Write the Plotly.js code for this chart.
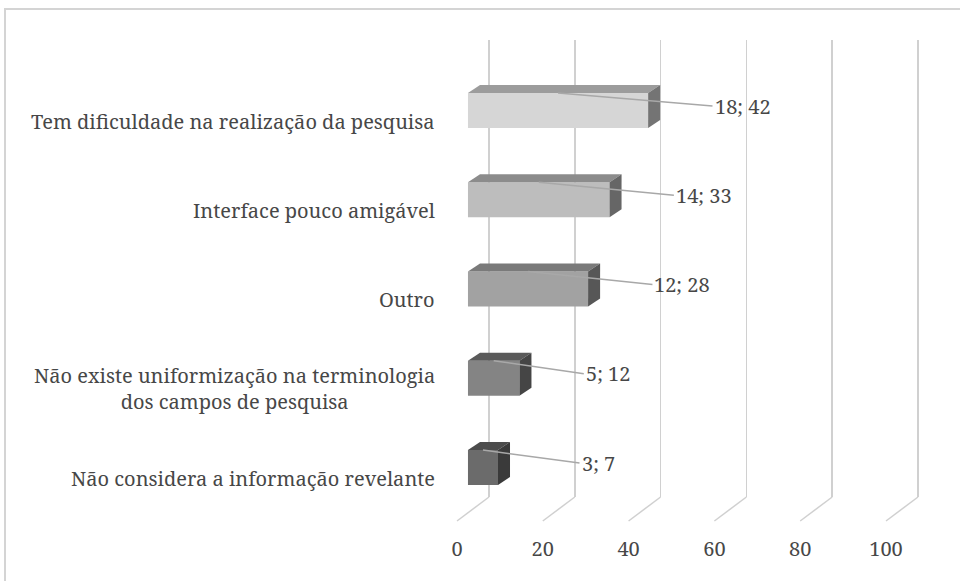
<!DOCTYPE html>
<html>
<head>
<meta charset="utf-8">
<script src="https://cdn.plot.ly/plotly-3.0.1.min.js"></script>
<style>
html,body{margin:0;padding:0;background:#fff;}
#wrap{position:relative;width:960px;height:581px;overflow:hidden;}
#chart{width:960px;height:581px;}
#frame{position:absolute;left:4px;top:8px;width:970px;height:590px;border-top:2px solid #d4d4d4;border-left:2px solid #d4d4d4;pointer-events:none;}
</style>
</head>
<body>
<div id="wrap"><div id="chart"></div><div id="frame"></div></div>
<script>
// ---- data (bottom to top) ----
const categories = [
  "Não considera a informação revelante",
  "Não existe uniformização na terminologia<br>dos campos de pesquisa",
  "Outro",
  "Interface pouco amigável",
  "Tem dificuldade na realização da pesquisa"
];
const counts = [3, 5, 12, 14, 18];
const percents = [7, 12, 28, 33, 42];
const xTickVals = [0, 20, 40, 60, 80, 100];
const xTickText = ["0", "20", "40", "60", "80", "100"];

// ---- styles ----
const frontColors = ["#6b6b6b", "#848484", "#a2a2a2", "#bdbdbd", "#d6d6d6"];
const topColors   = ["#4c4c4c", "#5a5a5a", "#7a7a7a", "#8c8c8c", "#9c9c9c"];
const sideColors  = ["#3a3a3a", "#454545", "#575757", "#666666", "#747474"];
const textColor = "#474747";
const gridColor = "#d0d0d0";
const FONT = "Noto Serif";
const FS = 20;

// ---- 3D geometry helpers (axis units) ----
const frontRange = [-3.96, 112.59];
const barShift = 2.56;     // mid-depth plane of the bars
const backShift = 7.46;    // back wall plane
const depthX = 2.8;
const depthY = 0.09;
const barW = 0.392;
const floorFrac = 0.0499;

const idx = categories.map((_, i) => i);

const traces = [
  {
    type: "bar", orientation: "h",
    x: percents, y: idx, xaxis: "x2", yaxis: "y",
    width: barW,
    marker: {color: frontColors, line: {width: 0}},
    hoverinfo: "skip", showlegend: false
  },
  {
    type: "scatter", mode: "markers", x: xTickVals, y: xTickVals.map(() => -5),
    xaxis: "x3", yaxis: "y", marker: {opacity: 0}, hoverinfo: "skip", showlegend: false
  },
  {
    type: "scatter", mode: "markers", x: xTickVals, y: xTickVals.map(() => -5),
    xaxis: "x", yaxis: "y", marker: {opacity: 0}, hoverinfo: "skip", showlegend: false
  }
];

const shapes = [];
// floor diagonals from back wall grid to front plane
xTickVals.forEach(t => {
  shapes.push({type: "line", xref: "x", yref: "paper",
    x0: t, y0: 0, x1: t + backShift, y1: floorFrac,
    line: {color: gridColor, width: 1.5}});
});
// top and side faces of bars
percents.forEach((v, i) => {
  const y0 = i - barW / 2, y1 = i + barW / 2;
  shapes.push({type: "path", xref: "x2", yref: "y", layer: "above",
    path: `M0,${y1} L${v},${y1} L${v + depthX},${y1 + depthY} L${depthX},${y1 + depthY} Z`,
    fillcolor: topColors[i], line: {width: 0}});
  shapes.push({type: "path", xref: "x2", yref: "y", layer: "above",
    path: `M${v},${y0} L${v},${y1} L${v + depthX},${y1 + depthY} L${v + depthX},${y0 + depthY} Z`,
    fillcolor: sideColors[i], line: {width: 0}});
});

const annotations = [];
percents.forEach((v, i) => {
  annotations.push({
    xref: "x2", yref: "y", axref: "x2", ayref: "y",
    x: v / 2, y: i + barW / 2,
    ax: Math.max(v + 15, 26), ay: i + 0.05,
    xanchor: "left", yanchor: "middle",
    text: counts[i] + "; " + v,
    showarrow: true, arrowhead: 0, arrowwidth: 1.5, arrowcolor: "#a8a8a8",
    standoff: 0, startstandoff: 0,
    font: {family: FONT, size: FS, color: textColor}
  });
});
categories.forEach((c, i) => {
  annotations.push({
    xref: "paper", yref: "y", x: 0, y: i - 0.12, xshift: -3,
    xanchor: "right", yanchor: "middle", align: "center",
    text: c, showarrow: false,
    font: {family: FONT, size: FS, color: textColor}
  });
});

const layout = {
  width: 960, height: 581,
  margin: {l: 440, r: 20, t: 40, b: 60},
  paper_bgcolor: "rgba(0,0,0,0)", plot_bgcolor: "rgba(0,0,0,0)",
  showlegend: false,
  font: {family: FONT, size: FS, color: textColor},
  xaxis: {
    range: frontRange, domain: [0, 1], anchor: "free", position: 0,
    tickvals: xTickVals, ticktext: xTickText,
    ticks: "outside", ticklen: 10, tickcolor: "rgba(0,0,0,0)",
    showgrid: false, zeroline: false, showline: false,
    tickfont: {family: FONT, size: FS, color: textColor}, fixedrange: true
  },
  xaxis2: {
    range: [frontRange[0] - barShift, frontRange[1] - barShift],
    overlaying: "x", anchor: "y", visible: false, fixedrange: true
  },
  xaxis3: {
    range: [frontRange[0] - backShift, frontRange[1] - backShift],
    overlaying: "x", anchor: "y",
    tickvals: xTickVals, showticklabels: false, ticks: "",
    showgrid: true, gridcolor: gridColor, gridwidth: 1.5,
    zeroline: false, showline: false, fixedrange: true
  },
  yaxis: {
    range: [-0.3305, 4.790], domain: [floorFrac, 1], anchor: "x",
    visible: false, showgrid: false, zeroline: false, fixedrange: true
  },
  shapes: shapes,
  annotations: annotations
};

Plotly.newPlot("chart", traces, layout, {displayModeBar: false, staticPlot: true});
</script>
</body>
</html>
